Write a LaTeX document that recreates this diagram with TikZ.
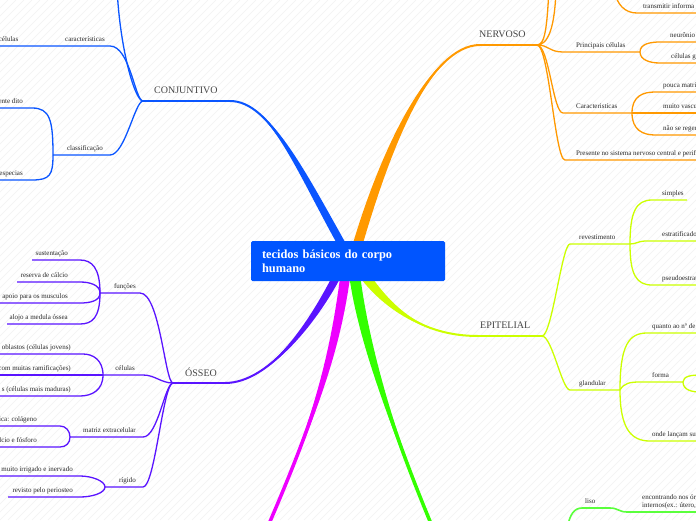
\documentclass[tikz,border=0pt]{standalone}
\usepackage{fontspec}
\setmainfont{Liberation Serif}
\definecolor{cblue}{RGB}{10,85,255}
\definecolor{corange}{RGB}{255,153,0}
\definecolor{cyellow}{RGB}{204,255,0}
\definecolor{cgreen}{RGB}{51,255,0}
\definecolor{clgreen}{RGB}{90,255,60}
\definecolor{cmag}{RGB}{238,0,255}
\definecolor{cpurple}{RGB}{90,20,255}
\definecolor{boxblue}{RGB}{0,85,255}
\definecolor{txt}{RGB}{40,40,40}
\definecolor{txtone}{RGB}{70,70,70}
\newcommand\branch[7]{%
  \fill[#1] ([xshift=-#6/2]#2) .. controls ([xshift=-#6/2]#3) and (#4) .. (#5)
     .. controls (#4) and ([xshift=#6/2]#3) .. ([xshift=#6/2]#2) -- cycle;
  \draw[#1,line width=#7] (#2) .. controls (#3) and (#4) .. (#5);}
\tikzset{
  lvlone/.style={font=\fontsize{10}{12}\selectfont, text=txtone, inner sep=0},
  lbl/.style={font=\fontsize{7}{8}\selectfont, text=txt, inner sep=0},
  subline/.style={line width=1.3},
  mainline/.style={line width=2},
  stripe/.style={draw=black!5, line width=0.5},
  centralbox/.style={fill=boxblue, rounded corners=1.5, text=white,
    font=\bfseries\fontsize{12.4}{14}\selectfont, align=left, text width=172,
    inner xsep=11, inner ysep=0, minimum width=194, minimum height=40}
}
\begin{document}
\begin{tikzpicture}[x=1pt,y=-1pt]
\useasboundingbox (0,0) rectangle (696,520);
\clip (0,0) rectangle (696,520);
\fill[white] (0,0) rectangle (696,520);
\foreach \i in {0,8,...,1216} \draw[stripe] (\i-520,520) -- (\i,0);

% ---------- CONJUNTIVO ----------
\coordinate (cS) at (345,250); \coordinate (cC1) at (300,170);
\coordinate (cC2) at (270,101); \coordinate (cE) at (230,101);
\coordinate (cR) at (143,101);
\branch{cblue}{cS}{cC1}{cC2}{cE}{9}{2}
\draw[cblue,mainline] (cE) -- (cR);
\node[lvlone,anchor=base west] (tconj) at (154,93) {CONJUNTIVO};
\coordinate (cUp) at (117,-12);
\draw[cblue,subline] (cR) .. controls +(-8,0) and +(3,62) .. (cUp);
\coordinate (carR) at (110,46); \coordinate (carL) at (-2,46);
\draw[cblue,subline] (cR) .. controls +(-8,0) and +(20,0) .. (carR) -- (carL);
\node[lbl,anchor=base east] (tcar) at (105,41.5) {características};
\node[lbl,anchor=base east] (tcel1) at (18.5,41.5) {células};
\coordinate (claR) at (110,155); \coordinate (claL) at (53,155);
\draw[cblue,subline] (cR) .. controls +(-8,0) and +(15,0) .. (claR) -- (claL);
\node[lbl,anchor=base east] (tcla) at (103,150.5) {classificação};
\coordinate (entR) at (32,108); \coordinate (entL) at (-2,108);
\draw[cblue,subline] (claL) .. controls +(0,-35) and +(18,0) .. (entR) -- (entL);
\node[lbl,anchor=base east] (tent) at (23,103.5) {ente dito};
\coordinate (espR) at (32,180); \coordinate (espL) at (-2,180);
\draw[cblue,subline] (claL) .. controls +(0,20) and +(18,0) .. (espR) -- (espL);
\node[lbl,anchor=base east] (tesp) at (23,175.5) {especias};

% ---------- NERVOSO ----------
\coordinate (nS) at (356,250); \coordinate (nC1) at (385,150);
\coordinate (nC2) at (430,45); \coordinate (nE) at (480,45);
\coordinate (nR) at (537,45);
\branch{corange}{nS}{nC1}{nC2}{nE}{10}{2}
\draw[corange,mainline] (nE) -- (nR);
\node[lvlone,anchor=base west] (tner) at (479,37.5) {NERVOSO};
\coordinate (nUpA) at (549,-12); \coordinate (nUpB) at (556,-12);
\draw[corange,subline] (nR) .. controls +(8,0) and +(-2,40) .. (nUpA);
\draw[corange,subline] (nR) .. controls +(11,0) and +(-1,40) .. (nUpB);
\coordinate (trA) at (614,-10); \coordinate (trL) at (637,13); \coordinate (trR) at (700,13);
\draw[corange,subline] (trA) .. controls +(3,15) and +(-12,0) .. (trL) -- (trR);
\node[lbl,anchor=base west] (ttr) at (643,8.5) {transmitir informa};
\coordinate (prL) at (563,52); \coordinate (prR) at (640,52);
\draw[corange,subline] (nR) .. controls +(12,0) and +(-14,0) .. (prL) -- (prR);
\node[lbl,anchor=base west] (tpr) at (576,47.5) {Principais células};
\coordinate (neL) at (660,42); \coordinate (neR) at (700,42);
\draw[corange,subline] (prR) .. controls +(0,-8) and +(-10,0) .. (neL) -- (neR);
\node[lbl,anchor=base west] (tne) at (670,37.5) {neurônio};
\coordinate (cgL) at (660,63); \coordinate (cgR) at (700,63);
\draw[corange,subline] (prR) .. controls +(0,8) and +(-10,0) .. (cgL) -- (cgR);
\node[lbl,anchor=base west] (tcg) at (671,58.5) {células g};
\coordinate (caL) at (563,113); \coordinate (caR) at (632,113);
\draw[corange,subline] (nR) .. controls +(12,0) and +(-10,0) .. (caL) -- (caR);
\node[lbl,anchor=base west] (tca) at (576,108.5) {Caracteristicas};
\coordinate (poL) at (655,92); \coordinate (poR) at (700,92);
\draw[corange,subline] (caR) .. controls +(0,-17) and +(-12,0) .. (poL) -- (poR);
\node[lbl,anchor=base west] (tpo) at (663,87.5) {pouca matri};
\coordinate (mvR) at (700,113);
\draw[corange,subline] (caR) -- (mvR);
\node[lbl,anchor=base west] (tmv) at (663,108.5) {muito vascu};
\coordinate (naL) at (655,135); \coordinate (naR) at (700,135);
\draw[corange,subline] (caR) .. controls +(0,17) and +(-12,0) .. (naL) -- (naR);
\node[lbl,anchor=base west] (tna) at (663,130.5) {não se regen};
\coordinate (peL) at (565,160); \coordinate (peR) at (700,160);
\draw[corange,subline] (nR) .. controls +(12,0) and +(-10,0) .. (peL) -- (peR);
\node[lbl,anchor=base west] (tpe) at (576,155.5) {Presente no sistema nervoso central e perif};

% ---------- EPITELIAL ----------
\coordinate (eS) at (362,272); \coordinate (eC1) at (385,305);
\coordinate (eC2) at (420,336); \coordinate (eE) at (478,336);
\coordinate (eR) at (542,336);
\branch{cyellow}{eS}{eC1}{eC2}{eE}{12}{2}
\draw[cyellow,mainline] (eE) -- (eR);
\node[lvlone,anchor=base west] (tepi) at (480,328) {EPITELIAL};
\coordinate (rvL) at (570,244); \coordinate (rvR) at (630,244);
\draw[cyellow,subline] (eR) .. controls +(10,0) and +(-8,0) .. (rvL) -- (rvR);
\node[lbl,anchor=base west] (trv) at (579,239.5) {revestimento};
\coordinate (siL) at (652,200); \coordinate (siR) at (687,200);
\draw[cyellow,subline] (rvR) .. controls +(0,-32) and +(-16,0) .. (siL) -- (siR);
\node[lbl,anchor=base west] (tsi) at (662,195.5) {simples};
\coordinate (esL) at (645,241); \coordinate (esR) at (700,241);
\draw[cyellow,subline] (rvR) .. controls +(6,0) and +(-6,0) .. (esL) -- (esR);
\node[lbl,anchor=base west] (tes) at (662,236.5) {estratificado};
\coordinate (psL) at (652,285); \coordinate (psR) at (700,285);
\draw[cyellow,subline] (rvR) .. controls +(0,30) and +(-16,0) .. (psL) -- (psR);
\node[lbl,anchor=base west] (tps) at (662,280.5) {pseudoestrati};
\coordinate (glL) at (570,390); \coordinate (glR) at (620,390);
\draw[cyellow,subline] (eR) .. controls +(10,0) and +(-8,0) .. (glL) -- (glR);
\node[lbl,anchor=base west] (tgl) at (579,385.5) {glandular};
\coordinate (quL) at (647,333); \coordinate (quR) at (700,333);
\draw[cyellow,subline] (glR) .. controls +(0,-45) and +(-18,0) .. (quL) -- (quR);
\node[lbl,anchor=base west] (tqu) at (652,328.5) {quanto ao nº de};
\coordinate (foL) at (640,382); \coordinate (foR) at (683,382);
\draw[cyellow,subline] (glR) .. controls +(4,-7) and +(-10,0) .. (foL) -- (foR);
\node[lbl,anchor=base west] (tfo) at (652,377.5) {forma};
\coordinate (foA) at (700,375); \coordinate (foB) at (700,392);
\draw[cyellow,subline] (foR) .. controls +(0,-6) and +(-8,0) .. (foA);
\draw[cyellow,subline] (foR) .. controls +(0,8) and +(-8,0) .. (foB);
\coordinate (onL) at (650,441); \coordinate (onR) at (700,441);
\draw[cyellow,subline] (glR) .. controls +(0,40) and +(-18,0) .. (onL) -- (onR);
\node[lbl,anchor=base west] (ton) at (652,436.5) {onde lançam su};

% ---------- green ----------
\coordinate (gS) at (354,270); \coordinate (gC1) at (362,340);
\coordinate (gC2) at (395,440); \coordinate (gE) at (440,545);
\branch{cgreen}{gS}{gC1}{gC2}{gE}{11}{3.5}
\coordinate (liA) at (568,525); \coordinate (liL) at (582,508); \coordinate (liR) at (610,508);
\draw[clgreen,line width=1.6] (liA) .. controls +(2,-10) and +(-8,0) .. (liL) -- (liR);
\node[lbl,anchor=base west] (tli) at (585,503.5) {liso};
\coordinate (enL) at (627,512); \coordinate (enR) at (700,512);
\draw[clgreen,line width=1.6] (liR) .. controls +(8,0) and +(-8,0) .. (enL) -- (enR);
\node[lbl,anchor=base west] (ten1) at (642,499.5) {encontrando nos órg};
\node[lbl,anchor=base west] (ten2) at (642,507.5) {internos(ex.: útero,};

% ---------- magenta ----------
\coordinate (mS) at (346,270); \coordinate (mC1) at (335,360);
\coordinate (mC2) at (310,430); \coordinate (mE) at (262,540);
\branch{cmag}{mS}{mC1}{mC2}{mE}{10}{3.5}

% ---------- OSSEO ----------
\coordinate (oS) at (340,270); \coordinate (oC1) at (315,320);
\coordinate (oC2) at (270,383); \coordinate (oE) at (225,383);
\coordinate (oR) at (173,383);
\branch{cpurple}{oS}{oC1}{oC2}{oE}{9}{2}
\draw[cpurple,mainline] (oE) -- (oR);
\node[lvlone,anchor=base west] (toss) at (185,376) {ÓSSEO};
\coordinate (fuR) at (140,293); \coordinate (fuL) at (100,293);
\draw[cpurple,subline] (oR) .. controls +(-8,0) and +(20,0) .. (fuR) -- (fuL);
\node[lbl,anchor=base east] (tfu) at (136,288.5) {funções};
\coordinate (suR) at (80,260); \coordinate (suL) at (32,260);
\draw[cpurple,subline] (fuL) .. controls +(0,-25) and +(12,0) .. (suR) -- (suL);
\node[lbl,anchor=base east] (tsu) at (68,255.5) {sustentação};
\coordinate (reR) at (80,282); \coordinate (reL) at (17,282);
\draw[cpurple,subline] (fuL) .. controls +(0,-8) and +(10,0) .. (reR) -- (reL);
\node[lbl,anchor=base east] (tre) at (68,277.5) {reserva de cálcio};
\coordinate (apR) at (80,303); \coordinate (apL) at (-2,303);
\draw[cpurple,subline] (fuL) .. controls +(0,8) and +(10,0) .. (apR) -- (apL);
\node[lbl,anchor=base east] (tap) at (68,298.5) {apoio para os musculos};
\coordinate (alR) at (80,324); \coordinate (alL) at (7,324);
\draw[cpurple,subline] (fuL) .. controls +(0,25) and +(12,0) .. (alR) -- (alL);
\node[lbl,anchor=base east] (tal) at (68,319.5) {alojo a medula óssea};
\coordinate (ceR) at (143,375); \coordinate (ceL) at (103,375);
\draw[cpurple,subline] (oR) .. controls +(-12,0) and +(12,0) .. (ceR) -- (ceL);
\node[lbl,anchor=base east] (tce) at (135,370.5) {células};
\coordinate (obR) at (83,354); \coordinate (obL) at (-2,354);
\draw[cpurple,subline] (ceL) .. controls +(0,-15) and +(10,0) .. (obR) -- (obL);
\node[lbl,anchor=base east] (tob) at (71,349.5) {oblastos (células jovens)};
\coordinate (cmL) at (-2,375);
\draw[cpurple,subline] (ceL) -- (cmL);
\node[lbl,anchor=base east] (tcm) at (71,370.5) {com muitas ramificações)};
\coordinate (mmR) at (80,396); \coordinate (mmL) at (-2,396);
\draw[cpurple,subline] (ceL) .. controls +(0,15) and +(12,0) .. (mmR) -- (mmL);
\node[lbl,anchor=base east] (tmm) at (71,391.5) {s (células mais maduras)};
\coordinate (maR) at (143,437); \coordinate (maL) at (70,437);
\draw[cpurple,subline] (oR) .. controls +(-8,0) and +(15,0) .. (maR) -- (maL);
\node[lbl,anchor=base east] (tma) at (136,432.5) {matriz extracelular};
\coordinate (coR) at (60,426); \coordinate (coL) at (-2,426);
\draw[cpurple,subline] (maL) .. controls +(0,-6) and +(6,0) .. (coR) -- (coL);
\node[lbl,anchor=base east] (tco) at (37,421.5) {ica: colágeno};
\coordinate (ffR) at (60,447); \coordinate (ffL) at (-2,447);
\draw[cpurple,subline] (maL) .. controls +(0,6) and +(6,0) .. (ffR) -- (ffL);
\node[lbl,anchor=base east] (tff) at (37,442.5) {lcio e fósforo};
\coordinate (riR) at (143,487); \coordinate (riL) at (105,487);
\draw[cpurple,subline] (oR) .. controls +(-10,0) and +(12,0) .. (riR) -- (riL);
\node[lbl,anchor=base east] (tri) at (136,482.5) {rígido};
\coordinate (miR) at (80,476); \coordinate (miL) at (-2,476);
\draw[cpurple,subline] (riL) .. controls +(0,-6) and +(12,0) .. (miR) -- (miL);
\node[lbl,anchor=base east] (tmi) at (73,471.5) {muito irrigado e inervado};
\coordinate (rpR) at (80,497); \coordinate (rpL) at (8,497);
\draw[cpurple,subline] (riL) .. controls +(0,6) and +(12,0) .. (rpR) -- (rpL);
\node[lbl,anchor=base east] (trp) at (73,492.5) {revisto pelo periosteo};

% ---------- central ----------
\node[centralbox] (root) at (348,261) {tecidos básicos do corpo\\humano};
\end{tikzpicture}
\end{document}
